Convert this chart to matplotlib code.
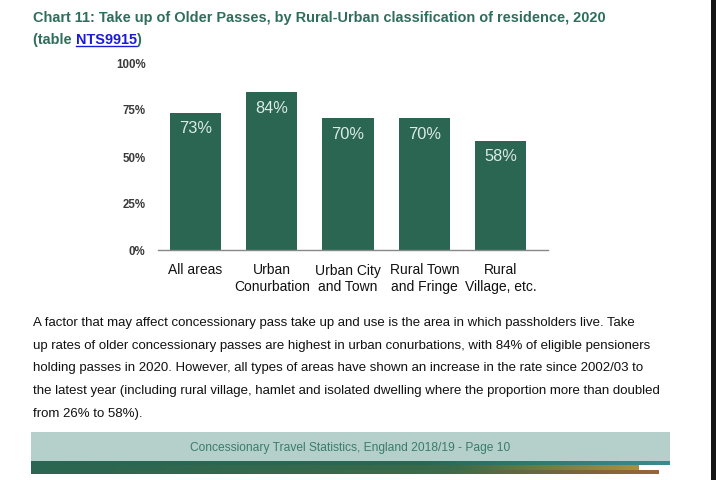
import matplotlib
matplotlib.use("Agg")
import matplotlib.pyplot as plt
import numpy as np
from matplotlib.patches import Rectangle
from matplotlib.colors import LinearSegmentedColormap

categories = ["All areas", "Urban\nConurbation", "Urban City\nand Town", "Rural Town\nand Fringe", "Rural\nVillage, etc."]
values = [73, 84, 70, 70, 58]
value_labels = ["73%", "84%", "70%", "70%", "58%"]
yticks = [0, 25, 50, 75, 100]
ytick_labels = ["0%", "25%", "50%", "75%", "100%"]

title_line1 = "Chart 11: Take up of Older Passes, by Rural-Urban classification of residence, 2020"
paragraph = [
    "A factor that may affect concessionary pass take up and use is the area in which passholders live. Take",
    "up rates of older concessionary passes are highest in urban conurbations, with 84% of eligible pensioners",
    "holding passes in 2020. However, all types of areas have shown an increase in the rate since 2002/03 to",
    "the latest year (including rural village, hamlet and isolated dwelling where the proportion more than doubled",
    "from 26% to 58%).",
]
footer = "Concessionary Travel Statistics, England 2018/19 - Page 10"

plt.rcParams['font.family'] = ['Liberation Sans', 'DejaVu Sans']

W, H = 716, 481
fig = plt.figure(figsize=(W / 100, H / 100), dpi=100)
fig.patch.set_facecolor("white")

def fx(px):
    return px / W

def fy(py):
    return 1 - py / H

BAR = "#2a6652"
TITLE = "#2f6e5c"

# Main chart axes
ax = fig.add_axes([fx(158), fy(251), fx(548) - fx(158), fy(63) - fy(251)])
x = np.arange(len(categories))
ax.bar(x, values, width=0.67, color=BAR, zorder=2)
ax.set_xlim(-0.492, 4.623)
ax.set_ylim(0, 100)
ax.set_yticks(yticks)
ax.set_yticklabels(ytick_labels, fontsize=8.3, fontweight="bold", color="#3a3a3a")
ax.set_xticks(x)
ax.set_xticklabels(categories, fontsize=10, color="#111111", linespacing=1.2)
ax.tick_params(axis="both", length=0)
ax.tick_params(axis="y", pad=9)
ax.tick_params(axis="x", pad=9)
for s in ["top", "right", "left"]:
    ax.spines[s].set_visible(False)
ax.spines["bottom"].set_color("#888888")
ax.spines["bottom"].set_linewidth(1.0)
for xi, v, lab in zip(x, values, value_labels):
    ax.annotate(lab, (xi, v), xytext=(0, -15), textcoords="offset pixels",
                ha="center", va="center", fontsize=11.8, color="#dcebe5")

# Title
TFS = 10.45
fig.text(fx(33), fy(18), title_line1, fontsize=TFS, fontweight="bold", color=TITLE, va="center", ha="left")
t1 = fig.text(fx(33), fy(40), "(table ", fontsize=TFS, fontweight="bold", color=TITLE, va="center", ha="left")
fig.canvas.draw()
r = fig.canvas.get_renderer()
bb = t1.get_window_extent(r)
t2 = fig.text(bb.x1 / W, fy(40), "NTS9915", fontsize=TFS, fontweight="bold", color="#1a1adb", va="center", ha="left")
bb2 = t2.get_window_extent(r)
fig.add_artist(plt.Line2D([bb2.x0 / W, bb2.x1 / W], [fy(47), fy(47)], color="#1a1adb", lw=1.0))
fig.text(bb2.x1 / W, fy(40), ")", fontsize=TFS, fontweight="bold", color=TITLE, va="center", ha="left")

# Paragraph
for i, line in enumerate(paragraph):
    fig.text(fx(33), fy(323 + i * 22.7), line, fontsize=9.55, color="#111111", va="center", ha="left")

# Footer band
fig.add_artist(Rectangle((fx(31), fy(462)), fx(670) - fx(31), fy(433) - fy(462),
                         transform=fig.transFigure, facecolor="#b5cfca", edgecolor="none"))
fig.text(fx(350.5), fy(448), footer, fontsize=8.65, color="#3b7d69", va="center", ha="center")

def grad_band(x0, x1, y0, y1, colors):
    gax = fig.add_axes([fx(x0), fy(y1), fx(x1) - fx(x0), fy(y0) - fy(y1)])
    cmap = LinearSegmentedColormap.from_list("g", colors)
    gax.imshow(np.linspace(0, 1, 256)[None, :], aspect="auto", cmap=cmap, extent=[0, 1, 0, 1])
    gax.set_axis_off()

grad_band(31, 670, 462, 466, [(0, "#2a6652"), (0.6, "#2a6652"), (1, "#3a8c8f")])
grad_band(31, 639, 466, 471, [(0, "#2a6652"), (0.7, "#3a6b4a"), (1, "#a8913a")])
grad_band(31, 659, 471, 475, [(0, "#2a6652"), (0.65, "#3f6a4a"), (1, "#9c6434")])

# right black border
fig.add_artist(Rectangle((fx(711), 0), fx(716) - fx(711), 1, transform=fig.transFigure,
                         facecolor="#151515", edgecolor="none"))

fig.savefig("out.png", dpi=100)
